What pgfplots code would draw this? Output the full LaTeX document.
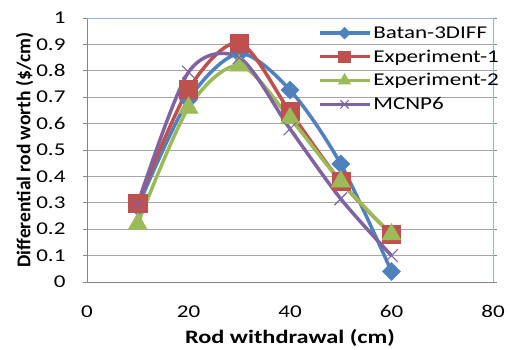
\documentclass[border=0pt]{standalone}
\usepackage{pgfplots}
\pgfplotsset{compat=1.18}
\usepackage{fontspec}
\setmainfont{Carlito}[FakeStretch=1.28]
\newfontfamily\ylabelfont{Carlito}
\definecolor{cblue}{HTML}{4F81BD}
\definecolor{cred}{HTML}{C0504D}
\definecolor{cgreen}{HTML}{9BBB59}
\definecolor{cpurple}{HTML}{8064A2}
\definecolor{gridgray}{HTML}{A6A6A6}
\definecolor{axgray}{HTML}{868686}
\definecolor{axblue}{HTML}{95B3D7}
\begin{document}
\begin{tikzpicture}
\useasboundingbox (-87pt,-67pt) rectangle (423pt,282pt);
\begin{axis}[
  at={(0pt,0pt)}, anchor=south west,
  scale only axis, width=406pt, height=264pt,
  xmin=0, xmax=80, ymin=0, ymax=1,
  xtick={0,20,40,60,80},
  ytick={0,0.1,...,1.0},
  yticklabels={0,0.1,0.2,0.3,0.4,0.5,0.6,0.7,0.8,0.9,1},
  /pgf/number format/assume math mode=true,
  tick label style={font=\fontsize{18}{20}\selectfont, text=black},
  xtick style={draw=none},
  ytick style={draw=axgray, line width=0.8pt},
  tick align=outside, major tick length=4pt,
  xticklabel style={yshift=-16pt},
  yticklabel style={xshift=-14pt},
  ymajorgrids, grid style={gridgray, line width=0.9pt},
  axis line style={draw=none},
  clip=false,
  xlabel={\bfseries Rod withdrawal (cm)},
  ylabel={\ylabelfont\bfseries Differential rod worth (\$/cm)},
  xlabel style={font=\fontsize{19}{21}\selectfont, yshift=-5pt},
  ylabel style={font=\fontsize{19.5}{21}\selectfont, yshift=-4pt},
  legend style={at={(rel axis cs:0.568,0.976)}, anchor=north west, draw=none, fill=none,
    font=\fontsize{18}{21}\selectfont, inner sep=0pt, row sep=6pt},
  legend cell align=left,
  legend image code/.code={\draw[mark repeat=2,mark phase=2, every mark/.append style={scale=0.65}] plot coordinates {(0pt,0pt) (25pt,0pt) (50pt,0pt)};},
  every axis plot/.append style={line width=3.5pt, smooth},
]
\draw[axgray, line width=0.9pt] (rel axis cs:0,1) -- (rel axis cs:0,0) -- (rel axis cs:1,0);
\draw[axblue, line width=0.9pt] (rel axis cs:0,1) -- (rel axis cs:1,1) -- (rel axis cs:1,0);
\addplot[cblue, mark=square*, mark size=6.4pt, mark options={solid, rotate=45, line width=0.5pt, fill=cblue}] coordinates {
 (10,0.285) (20,0.69) (30,0.865) (40,0.727) (50,0.447) (60,0.04)};
\addplot[cred, mark=square*, mark size=9pt, mark options={solid, line width=0.5pt, fill=cred}] coordinates {
 (10,0.30) (20,0.73) (30,0.905) (40,0.645) (50,0.38) (60,0.18)};
\addplot[cgreen, mark=triangle*, mark size=11pt, mark options={solid, line width=0.5pt, fill=cgreen}] coordinates {
 (10,0.22) (20,0.66) (30,0.82) (40,0.62) (50,0.38) (60,0.18)};
\addplot[cpurple, mark=x, mark size=9pt, mark options={solid, line width=1.2pt}] coordinates {
 (10,0.295) (20,0.795) (30,0.85) (40,0.58) (50,0.315) (60,0.10)};
\legend{Batan-3DIFF,Experiment-1,Experiment-2,MCNP6}
\end{axis}
\end{tikzpicture}
\end{document}
